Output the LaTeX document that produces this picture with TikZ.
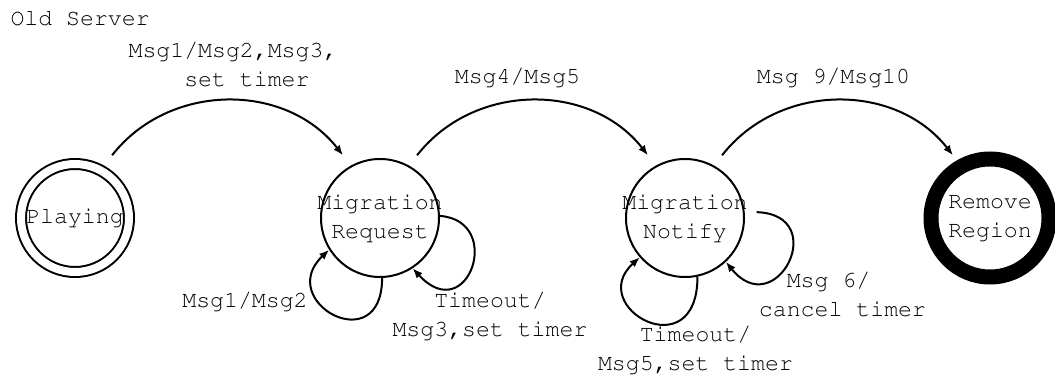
\documentclass[tikz,border=0pt]{standalone}
\usepackage[T1]{fontenc}
\usepackage{courier}
\usetikzlibrary{arrows.meta, positioning}

\begin{document}
\begin{tikzpicture}[
    x=1pt, y=-1pt,
    node distance=305pt, on grid,
    every node/.style={font=\ttfamily\fontsize{23.2}{29}\selectfont},
    state/.style={circle, draw, line width=2pt, minimum size=118pt, inner sep=-14pt, outer sep=1pt, align=center},
    trans/.style={-{Latex[length=10pt, width=8pt]}, line width=2pt},
    arc/.style={trans, shorten <=13pt, shorten >=13pt},
    lbl/.style={align=center},
]
\useasboundingbox (0,0) rectangle (1055,382);

\node[anchor=west] (oldsrv) at (7,18) {Old Server};

% states
\node[state, double, double distance=8pt, minimum size=108pt, outer sep=6pt] (play) at (75,218) {Playing};
\node[state, right=of play] (req) {Migration\\Request};
\node[state, right=of req] (noti) {Migration\\Notify};
\node[state, right=of noti, line width=15pt] (rem) {Remove\\Region};

% transitions between states
\draw[arc] (play.61) to[bend left=52, looseness=1.1] node[lbl, align=left, above=12pt, xshift=5.5pt] (lplay) {Msg1/Msg2,Msg3,\\\hphantom{xxxx}set timer} (req.119);
\draw[arc] (req.61) to[bend left=52, looseness=1.1] node[lbl, above=12pt, xshift=-15pt] (lreq) {Msg4/Msg5} (noti.119);
\draw[arc] (noti.61) to[bend left=52, looseness=1.1] node[lbl, above=12pt, xshift=-4pt] (lnoti) {Msg 9/Msg10} (rem.119);

% self loops
\draw[trans] (req.-88) .. controls +(0,83) and +(-55,52) .. (req.212);
\draw[trans] (req.2) .. controls +(65,5) and +(55,60) .. (req.-57);
\draw[trans, shorten <=12pt] (noti.6) .. controls +(87,3) and +(50,62) .. (noti.-47);
\draw[trans] (noti.-78) .. controls +(0,93) and +(-55,50) .. (noti.221);

\node[lbl, below left=84pt and 135pt of req] (lreqa) {Msg1/Msg2};
\node[lbl, below right=98pt and 110pt of req] (lreqb) {Timeout/\\Msg3,set timer};
\node[lbl, align=left, below right=77pt and 157.5pt of noti] (lnotib) {\hphantom{xx}Msg 6/\\cancel timer};
\node[lbl, below right=132.5pt and 10.5pt of noti] (lnotia) {Timeout/\\Msg5,set timer};

\end{tikzpicture}
\end{document}
